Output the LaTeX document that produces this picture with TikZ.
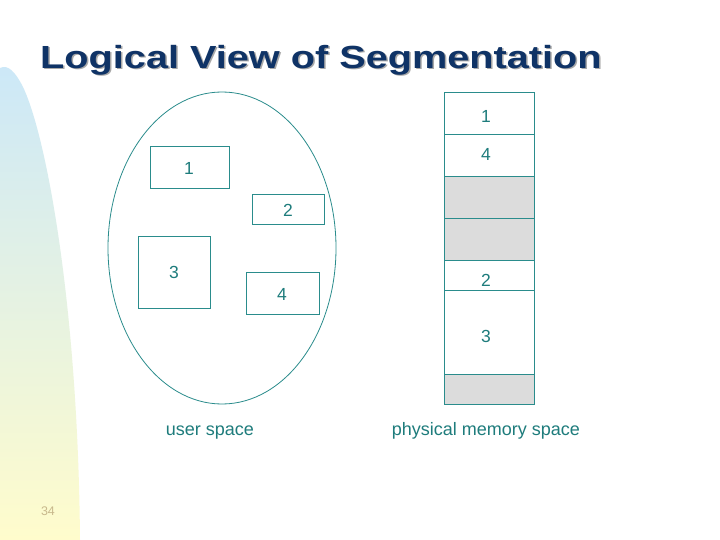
\documentclass[tikz,border=0pt]{standalone}
\usepackage{fontspec}
\setmainfont{Liberation Sans}
\usetikzlibrary{shapes.geometric}
\definecolor{teal1}{HTML}{2A8C8C}
\definecolor{tealtxt}{HTML}{1E7C7C}
\definecolor{navy}{HTML}{0F3366}
\definecolor{shadowgray}{HTML}{A8A8A8}
\definecolor{segfill}{HTML}{DCDCDC}
\definecolor{topblue}{HTML}{CCE8F8}
\definecolor{botyellow}{HTML}{FFFCCC}
\definecolor{pagenum}{HTML}{C8B88C}
\tikzset{
  ubox/.style={draw=teal1, line width=0.8pt, rectangle, inner sep=0pt},
  seg/.style={draw=teal1, line width=0.8pt, rectangle, inner sep=0pt, minimum width=90pt},
  freeseg/.style={seg, fill=segfill},
  numlbl/.style={text=tealtxt, font=\fontsize{17.5}{17.5}\selectfont, inner sep=0pt, anchor=base},
  caplbl/.style={text=tealtxt, font=\fontsize{18}{18}\selectfont, inner sep=0pt, anchor=base},
}
\begin{document}
\begin{tikzpicture}[x=1pt,y=-1pt]
\useasboundingbox (0,0) rectangle (720,540);
\fill[white] (0,0) rectangle (720,540);
% left decoration
\shade[top color=topblue, bottom color=botyellow, draw=none]
  (0,540) -- (0,68) .. controls (8,64) and (15,72) .. (22,85)
  .. controls (45,130) and (78,300) .. (80,540) -- cycle;
% title
\node[text=shadowgray, font=\fontsize{32}{32}\selectfont\bfseries, inner sep=0pt, anchor=west] (tshadow) at (41.5,61.5) {\scalebox{1.24}[1]{Logical View of Segmentation}};
\node[text=navy, font=\fontsize{32}{32}\selectfont\bfseries, inner sep=0pt, anchor=west] (title) at (40,60) {\scalebox{1.24}[1]{Logical View of Segmentation}};
% user space
\node[draw=teal1, line width=0.8pt, ellipse, inner sep=0pt, minimum width=228pt, minimum height=312pt] (us) at (222,248) {};
\node[ubox, minimum width=79pt, minimum height=42pt] (u1) at (189.5,167) {};
\node[ubox, minimum width=72pt, minimum height=30pt] (u2) at (288,209) {};
\node[ubox, minimum width=72pt, minimum height=72pt] (u3) at (174,272) {};
\node[ubox, minimum width=73pt, minimum height=42pt] (u4) at (282.5,293) {};
\node[numlbl] (l1) at (189,175) {1};
\node[numlbl] (l2) at (288,216) {2};
\node[numlbl] (l3) at (174,278) {3};
\node[numlbl] (l4) at (282,300) {4};
% physical memory
\node[seg, minimum height=42pt] (m1) at (489,113) {};
\node[seg, minimum height=42pt] (m4) at (489,155) {};
\node[freeseg, minimum height=42pt] (f1) at (489,197) {};
\node[freeseg, minimum height=42pt] (f2) at (489,239) {};
\node[seg, minimum height=30pt] (m2) at (489,275) {};
\node[seg, minimum height=84pt] (m3) at (489,332) {};
\node[freeseg, minimum height=30pt] (f3) at (489,389) {};
\node[numlbl] (ml1) at (486,123) {1};
\node[numlbl] (ml4) at (486,161) {4};
\node[numlbl] (ml2) at (486,286) {2};
\node[numlbl] (ml3) at (486,342) {3};
% captions
\node[caplbl] (cu) at (210,435) {user space};
\node[caplbl] (cp) at (486,435) {physical memory space};
% page number
\node[text=pagenum, font=\fontsize{12.5}{12.5}\selectfont, inner sep=0pt, anchor=base] (pn) at (48,515) {34};
\end{tikzpicture}
\end{document}
